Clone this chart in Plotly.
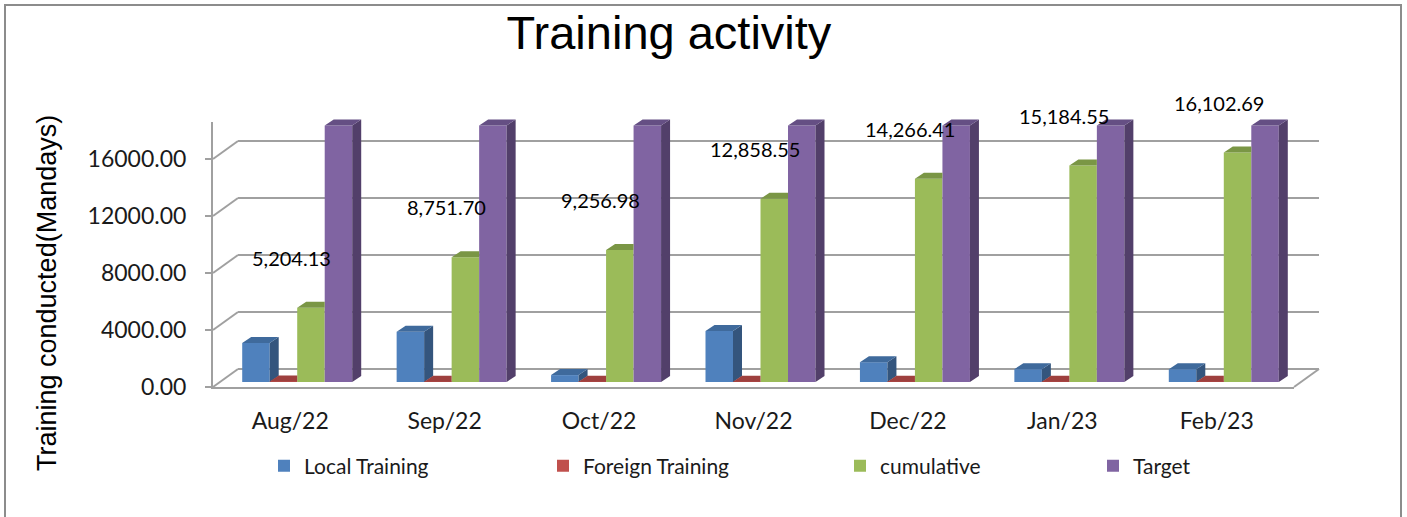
import plotly.graph_objects as go

# ---------------- data ----------------
months = ["Aug/22", "Sep/22", "Oct/22", "Nov/22", "Dec/22", "Jan/23", "Feb/23"]
local_training = [2740, 3525, 485, 3580, 1390, 900, 900]
foreign_training = [30, 25, 20, 25, 20, 20, 20]
cumulative = [5204.13, 8751.70, 9256.98, 12858.55, 14266.41, 15184.55, 16102.69]
target = [18000, 18000, 18000, 18000, 18000, 18000, 18000]
y_ticks = [0, 4000, 8000, 12000, 16000]

series_names = ["Local Training", "Foreign Training", "cumulative", "Target"]
series_values = [local_training, foreign_training, cumulative, target]
front_colors = ["#4F81BD", "#C0504D", "#9BBB59", "#8064A2"]
side_colors = ["#34557D", "#7F3533", "#66803A", "#523F6A"]
top_colors = ["#3F6A9C", "#9E403E", "#7A9645", "#654F84"]

# ---------------- layout geometry (pixels) ----------------
FIG_W, FIG_H = 1407, 517
L, R, T, B = 213, 1319, 103, 387
W, H = R - L, B - T


def fx(px):
    return (px - L) / W


def fy(py):
    return (B - py) / H


Y_MAX = 18600
PX_PER_VAL = 0.01425          # pixels per value unit
SPAN = Y_MAX * PX_PER_VAL
N = len(months)
CAT_PX = 1081 / N

BW = 27.5 / CAT_PX            # bar width in category units
DX = 9 / CAT_PX               # 3D depth (x)
DY = 6 / PX_PER_VAL           # 3D depth (y)

legend_ids = ["legend", "legend2", "legend3", "legend4"]
legend_px = [264, 543, 840, 1093]

fig = go.Figure()

# back plane (grid only)
fig.add_trace(go.Scatter(x=[None], y=[None], xaxis="x", yaxis="y",
                         showlegend=False, hoverinfo="skip"))

# front faces (bars)
for k, (name, vals) in enumerate(zip(series_names, series_values)):
    fig.add_trace(go.Bar(
        x=list(range(N)), y=vals, name=name,
        width=BW, offset=(-2 + k) * BW,
        marker=dict(color=front_colors[k], line=dict(width=0)),
        xaxis="x2", yaxis="y2", legend=legend_ids[k],
    ))

# 3D side / top faces
for k, vals in enumerate(series_values):
    side_x, side_y, top_x, top_y = [], [], [], []
    for i, v in enumerate(vals):
        x0 = i + (-2 + k) * BW
        x1 = x0 + BW
        if k in (0, 3):
            side_x += [x1, x1 + DX, x1 + DX, x1, x1, None]
            side_y += [0, DY, v + DY, v, 0, None]
            top_x += [x0, x1, x1 + DX, x0 + DX, x0, None]
            top_y += [v, v, v + DY, v + DY, v, None]
        else:
            top_x += [x0, x1, x1, x0 + DX, x0, None]
            top_y += [v, v, v + DY, v + DY, v, None]
    if side_x:
        fig.add_trace(go.Scatter(x=side_x, y=side_y, fill="toself", mode="lines",
                                 line=dict(width=0), fillcolor=side_colors[k],
                                 xaxis="x2", yaxis="y2", showlegend=False, hoverinfo="skip"))
    fig.add_trace(go.Scatter(x=top_x, y=top_y, fill="toself", mode="lines",
                             line=dict(width=0), fillcolor=top_colors[k],
                             xaxis="x2", yaxis="y2", showlegend=False, hoverinfo="skip"))

# front plane (axis labels)
fig.add_trace(go.Scatter(x=[None], y=[None], xaxis="x3", yaxis="y3",
                         showlegend=False, hoverinfo="skip"))

GRID = "#A0A0A0"
tick_font = dict(family="Lato, Arial, sans-serif", size=23, color="#1a1a1a")
legend_font = dict(family="Lato, Arial, sans-serif", size=21, color="#1a1a1a")

layout_legends = {}
for lid, px in zip(legend_ids, legend_px):
    layout_legends[lid] = dict(orientation="h", x=fx(px), y=fy(466), xanchor="left",
                               yanchor="middle", font=legend_font,
                               bgcolor="rgba(0,0,0,0)")

fig.update_layout(
    width=FIG_W, height=FIG_H,
    margin=dict(l=L, r=FIG_W - R, t=T, b=FIG_H - B, pad=0),
    paper_bgcolor="white", plot_bgcolor="rgba(0,0,0,0)",
    barmode="overlay",
    showlegend=True,
    title=dict(text="Training activity", x=669 / FIG_W, xref="container", xanchor="center",
               y=1 - 33 / FIG_H, yref="container", yanchor="middle",
               font=dict(family="Liberation Sans, Arial, sans-serif", size=47, color="black")),
    xaxis=dict(domain=[fx(238), fx(1319)], range=[-0.5, N - 0.5], visible=False),
    yaxis=dict(domain=[fy(369), fy(369 - SPAN)], range=[0, Y_MAX], tickvals=y_ticks,
               showgrid=True, gridcolor=GRID, gridwidth=2, zeroline=True,
               zerolinecolor=GRID, zerolinewidth=2, showticklabels=False, ticks=""),
    xaxis2=dict(domain=[fx(220), fx(1301)], range=[-0.5, N - 0.5], visible=False,
                anchor="y2"),
    yaxis2=dict(domain=[fy(382), fy(382 - SPAN)], range=[0, Y_MAX], visible=False,
                anchor="x2"),
    xaxis3=dict(domain=[fx(213), fx(1294)], range=[-0.5, N - 0.5], anchor="y3",
                tickvals=list(range(N)), ticktext=months, showgrid=False, zeroline=False,
                showline=True, linecolor=GRID, linewidth=2, ticks="",
                ticklabelstandoff=12, tickfont=tick_font),
    yaxis3=dict(domain=[0, fy(387 - SPAN)], range=[0, Y_MAX], anchor="x3",
                tickvals=y_ticks, tickformat=".2f", showgrid=False, zeroline=False,
                showline=True, linecolor=GRID, linewidth=2, ticks="outside",
                ticklen=6, tickcolor=GRID, tickwidth=2, tickfont=tick_font,
                ticklabelstandoff=14),
    **layout_legends,
)

# left wall diagonals and floor corner
shapes = []
for v in y_ticks:
    shapes.append(dict(type="line", xref="paper", yref="paper",
                       x0=fx(213), y0=fy(387 - v * PX_PER_VAL),
                       x1=fx(238), y1=fy(369 - v * PX_PER_VAL),
                       line=dict(color=GRID, width=2)))
shapes.append(dict(type="line", xref="paper", yref="paper",
                   x0=fx(1294), y0=fy(387), x1=fx(1319), y1=fy(369),
                   line=dict(color=GRID, width=2)))
# outer border
shapes.append(dict(type="rect", xref="paper", yref="paper",
                   x0=fx(5), y0=fy(530), x1=fx(1401), y1=fy(5),
                   line=dict(color="#8C8C8C", width=2), layer="below"))
fig.update_layout(shapes=shapes)

# data labels for cumulative + axis title
annotations = []
for i, v in enumerate(cumulative):
    annotations.append(dict(x=i + 0.5 * BW, y=v, xref="x2", yref="y2",
                            text=f"{v:,.2f}", showarrow=False,
                            xshift=-19, yshift=50, xanchor="center", yanchor="middle",
                            font=dict(family="Lato, Arial, sans-serif", size=20, color="black")))
annotations.append(dict(x=fx(47), y=fy(293), xref="paper", yref="paper",
                        text="Training conducted(Mandays)", textangle=-90, showarrow=False,
                        xanchor="center", yanchor="middle",
                        font=dict(family="Liberation Sans, Arial, sans-serif", size=27,
                                  color="black")))
fig.update_layout(annotations=annotations)

fig.write_html("out.html", config={"displayModeBar": False},
               post_script="document.body.style.margin='0';")
